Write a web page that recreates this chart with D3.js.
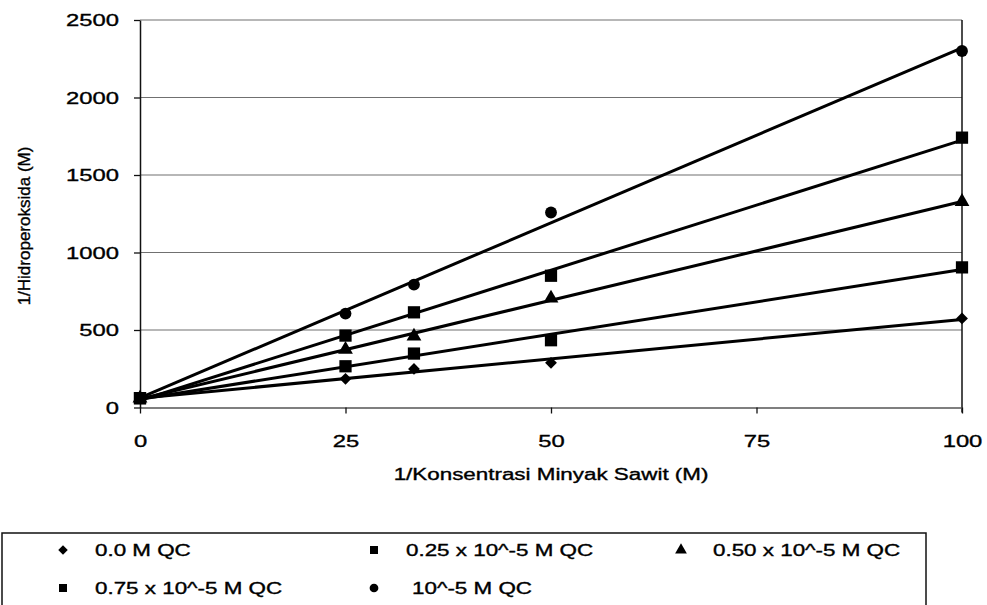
<!DOCTYPE html>
<html>
<head>
<meta charset="utf-8">
<script src="https://cdn.jsdelivr.net/npm/d3@7"></script>
<style>
  body { margin: 0; background: #fff; }
  text { font-family: "Liberation Sans", Arial, sans-serif; fill: #000; stroke: #000; stroke-width: 0.35px; }
</style>
</head>
<body>
<div id="chart"></div>
<script>
// data
const xValues = [0, 25, 33.33, 50, 100];
const seriesNames = ["0.0 M QC", "0.25 x 10^-5 M QC", "0.50 x 10^-5 M QC", "0.75 x 10^-5 M QC", "10^-5 M QC"];
const seriesShapes = ["diamond", "square", "triangle", "square", "circle"];
const qc000 = [60, 185, 249, 288, 575];
const qc025 = [60, 266, 348, 434, 904];
const qc050 = [60, 374, 460, 705, 1328];
const qc075 = [60, 464, 614, 850, 1741];
const qc100 = [60, 606, 793, 1258, 2300];
const xTicks = [0, 25, 50, 75, 100];
const yTicks = [0, 500, 1000, 1500, 2000, 2500];

const allSeries = [qc000, qc025, qc050, qc075, qc100];

var width = 987, height = 605;
var plot = {left: 140, right: 962, top: 20, bottom: 407.5};
var stretch = 1.4; // the scan is wider than it is tall

var svg = d3.select("#chart").append("svg")
    .attr("width", width)
    .attr("height", height);

var x = d3.scaleLinear().domain([0, 100]).range([plot.left, plot.right]);
var y = d3.scaleLinear().domain([0, 2500]).range([plot.bottom, plot.top]);

// grid lines
svg.append("g").selectAll("line")
    .data(yTicks.filter(d => d > 0))
    .enter().append("line")
    .attr("x1", plot.left).attr("x2", plot.right)
    .attr("y1", d => y(d)).attr("y2", d => y(d))
    .attr("stroke", "#707070")
    .attr("stroke-width", 1.2);

// right border of plot area
svg.append("line")
    .attr("x1", plot.right).attr("x2", plot.right)
    .attr("y1", plot.top).attr("y2", plot.bottom + 5)
    .attr("stroke", "#111").attr("stroke-width", 1.5);

// x axis
var xAxis = svg.append("g")
    .attr("transform", "translate(0," + plot.bottom + ")")
    .call(d3.axisBottom(x).tickValues(xTicks).tickSize(6).tickSizeOuter(0));
xAxis.select(".domain").attr("stroke", "#555").attr("stroke-width", 1.5);
xAxis.selectAll(".tick line").attr("stroke", "#111").attr("stroke-width", 1.3);
xAxis.selectAll(".tick text")
    .attr("font-size", 17)
    .attr("y", 0).attr("dy", 0)
    .attr("transform", "translate(0,39) scale(" + stretch + ",1)");

// y axis
var yAxis = svg.append("g")
    .attr("transform", "translate(" + plot.left + ",0)")
    .call(d3.axisLeft(y).tickValues(yTicks).tickFormat(d3.format("d")).tickSize(6).tickSizeOuter(0));
yAxis.select(".domain").attr("stroke", "#111").attr("stroke-width", 1.5);
yAxis.selectAll(".tick line").attr("stroke", "#111").attr("stroke-width", 1.3);
yAxis.selectAll(".tick text")
    .attr("font-size", 17)
    .attr("x", 0).attr("dy", "0.35em")
    .attr("transform", "translate(-21,0) scale(" + stretch + ",1)");

// axis titles
svg.append("text")
    .attr("transform", "translate(" + (plot.left + plot.right) / 2 + ",480) scale(" + stretch + ",1)")
    .attr("text-anchor", "middle")
    .attr("font-size", 16)
    .text("1/Konsentrasi Minyak Sawit (M)");

svg.append("text")
    .attr("transform", "translate(30,226) rotate(-90)")
    .attr("text-anchor", "middle")
    .attr("font-size", 17)
    .text("1/Hidroperoksida (M)");

// least squares trend line for each series
function fit(ys) {
    var mx = d3.mean(xValues), my = d3.mean(ys);
    var sxy = d3.sum(xValues, (v, i) => (v - mx) * (ys[i] - my));
    var sxx = d3.sum(xValues, v => (v - mx) * (v - mx));
    var b = sxy / sxx;
    return {a: my - b * mx, b: b};
}

var line = d3.line()
    .x(d => x(d[0]))
    .y(d => y(d[1]));

allSeries.forEach(function (ys) {
    var f = fit(ys);
    svg.append("path")
        .datum([[0, f.a], [100, f.a + 100 * f.b]])
        .attr("d", line)
        .attr("fill", "none")
        .attr("stroke", "#000")
        .attr("stroke-width", 3);
});

// marker shapes; the diamond is a square turned 45 degrees
var shapeType = {
    diamond: d3.symbolSquare,
    square: d3.symbolSquare,
    triangle: d3.symbolTriangle,
    circle: d3.symbolCircle
};
var shapeTurn = {diamond: 45, square: 0, triangle: 0, circle: 0};
var shapeSize = {diamond: 70, square: 150, triangle: 95, circle: 110};

// draw markers, 0.75 series last so its square sits on top at the origin
[0, 1, 2, 4, 3].forEach(function (s) {
    var shape = seriesShapes[s];
    svg.append("g").selectAll("path")
        .data(allSeries[s])
        .enter().append("path")
        .attr("d", d3.symbol().type(shapeType[shape]).size(shapeSize[shape]))
        .attr("transform", (d, i) => "translate(" + x(xValues[i]) + "," + y(d) + ") rotate(" + shapeTurn[shape] + ")")
        .attr("fill", "#000");
});

// legend
var legend = svg.append("g");
legend.append("rect")
    .attr("x", 2).attr("y", 533)
    .attr("width", 924).attr("height", 90)
    .attr("fill", "none")
    .attr("stroke", "#111")
    .attr("stroke-width", 1.5);

var legendCols = [95, 406, 713];
var legendRows = [550, 588];
var legendSize = {diamond: 45, square: 64, triangle: 60, circle: 60};

seriesNames.forEach(function (name, i) {
    var shape = seriesShapes[i];
    var cx = legendCols[i % 3], cy = legendRows[Math.floor(i / 3)];
    legend.append("path")
        .attr("d", d3.symbol().type(shapeType[shape]).size(legendSize[shape]))
        .attr("transform", "translate(" + (cx - 32) + "," + cy + ") rotate(" + shapeTurn[shape] + ")")
        .attr("fill", "#000");
    legend.append("text")
        .attr("transform", "translate(" + (i === 4 ? cx + 6 : cx) + "," + cy + ") scale(" + stretch + ",1)")
        .attr("dy", "0.35em")
        .attr("font-size", 16)
        .text(name);
});
</script>
</body>
</html>
